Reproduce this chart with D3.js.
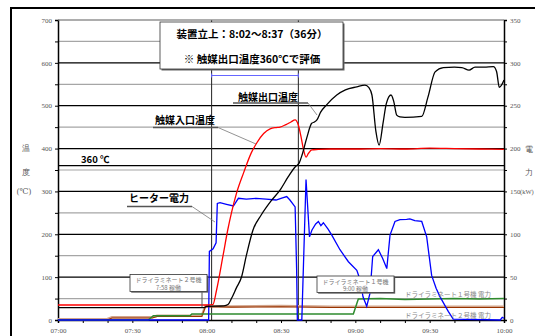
<!DOCTYPE html>
<html><head><meta charset="utf-8">
<script src="https://cdn.jsdelivr.net/npm/d3@7"></script>
<style>
body{margin:0;background:#fff;}
svg{display:block;}
</style></head>
<body><svg id="c" width="535" height="336"></svg>
<script>
// minutes after 07:00
const timeTicks = [0, 30, 60, 90, 120, 150, 180];
const timeLabels = ["07:00", "07:30", "08:00", "08:30", "09:00", "09:30", "10:00"];
const tempTicks = [0, 100, 200, 300, 400, 500, 600, 700];
const powerTicks = [0, 50, 100, 150, 200, 250, 300, 350];

// 触媒入口温度 (℃)
const inletTemp = [[0,35],[30,35],[60,35],[62.5,36],[64,70],[66.6,150],[68.5,210],[70,250],[72,295],[75,345],[78,390],[80.2,413],[83,435],[85.6,446],[88,449],[89.6,450],[92,456],[94,462],[95.7,467],[97,455],[98,430],[99,400],[100.1,380],[101,388],[102.4,397],[105,398],[110,399],[120,399],[130,400],[140,399],[150,401],[160,400],[170,399],[180,398]];
// 触媒出口温度 (℃)
const outletTemp = [[0,29],[59,29],[60,32],[67,33],[68.6,36],[70,50],[72,75],[74.1,101],[76,150],[78.7,210],[82,245],[86,278],[89.6,303],[93,335],[95.7,357],[97.3,366],[98.5,385],[100.4,425],[102.4,459],[103.5,462],[104.5,467],[106,485],[108.4,502],[112.5,525],[116,537],[120.6,544],[123.9,548],[125.5,542],[126.7,525],[128.3,440],[129.6,408],[131.2,460],[132.5,505],[134.4,525],[135.5,510],[136.7,478],[138,474],[140,473],[146.8,475],[149.3,520],[152.2,579],[155.5,589],[160,590],[163,589],[165.9,583],[168.3,590],[172,590],[175.7,591],[177,580],[178.1,543],[179,548],[180,560]];
// ヒーター電力 (kW)
const heaterPower = [[0,0],[60.8,0],[61.1,80],[62.6,83],[63.8,90],[64.3,136],[65.4,137],[68,135],[70.8,133],[72.8,142],[76,141],[80,142],[84,141],[88,140],[90,142],[92.3,144],[93.6,140],[95.7,132],[96.3,60],[96.6,0],[98.4,0],[100.1,164],[101.5,97],[102.5,105],[104,112],[105.1,115],[106.1,110],[107.1,113.5],[109,106],[110.5,99],[113.8,82],[117.2,68],[120.6,58],[121.9,47],[123.1,27],[124.6,16],[125.9,31],[127,74],[129.3,82],[131,72],[132.7,60],[134,99],[136,115],[138,117],[140.7,117.5],[142,118],[144,116],[146.8,115],[148.8,97],[150.8,52],[152.6,37],[154.2,27],[157.5,10],[159.5,1],[178.5,0],[179.3,3],[180,2]];
// ドライラミネート２号機 電力 (kW)
const laminator2Power = [[0,0],[19.8,0],[21.8,2.3],[38,2.3],[40,4],[58,4],[59.5,15.5],[70,15],[90,15.5],[110,14.5],[130,14.5],[150,14.5],[180,14.5]];
// ドライラミネート１号機 電力 (kW)
const laminator1Power = [[0,0],[36.4,0],[38.5,5],[53.3,5],[54,7],[119.2,7],[121.2,24.5],[130,25],[140,24],[150,24.5],[160,25],[170,24.5],[180,25]];

const startMin = 62, endMin = 97;   // 8:02 ～ 8:37
const evalTemp = 360;

const svg = d3.select("#c");
const L = 58, R = 504, T = 20, B = 320;
const x = d3.scaleLinear().domain([0, 180]).range([L, R]);
const yL = d3.scaleLinear().domain([0, 700]).range([B, T]);
const yR = d3.scaleLinear().domain([0, 350]).range([B, T]);

const serif = "'Liberation Serif', 'DejaVu Serif', serif";
const jp = "'Noto Sans CJK JP', sans-serif";

// outer frame
svg.append("rect").attr("x", 11).attr("y", 8).attr("width", 600).attr("height", 400)
  .attr("fill", "none").attr("stroke", "#000").attr("stroke-width", 2);

// horizontal grid: black at every 100 ℃, gray in between
const grid = svg.append("g");
d3.range(0, 701, 50).forEach(v => {
  const major = v % 100 === 0;
  if (v === 0) return;
  grid.append("line").attr("x1", L).attr("x2", R).attr("y1", yL(v)).attr("y2", yL(v))
    .attr("stroke", major && v !== 700 ? "#000" : "#a6a6a6").attr("stroke-width", 1.2);
});
// 360 ℃ line
grid.append("line").attr("x1", L).attr("x2", R).attr("y1", yL(evalTemp)).attr("y2", yL(evalTemp))
  .attr("stroke", "#000").attr("stroke-width", 1.2);

// start / end verticals
[startMin, endMin].forEach(m => {
  svg.append("line").attr("x1", x(m)).attr("x2", x(m)).attr("y1", T).attr("y2", B)
    .attr("stroke", "#222").attr("stroke-width", 1);
});
// duration bracket
const br = svg.append("g").attr("stroke", "#6666ff").attr("stroke-width", 1);
br.append("line").attr("x1", x(startMin)).attr("x2", x(endMin)).attr("y1", 75.5).attr("y2", 75.5);
[startMin, endMin].forEach(m => br.append("line").attr("x1", x(m)).attr("x2", x(m)).attr("y1", 73.5).attr("y2", 77.5));

// axes
const axL = svg.append("g").attr("transform", `translate(${L},0)`)
  .call(d3.axisLeft(yL).tickValues(d3.range(0, 701, 50)).tickSize(3).tickFormat(d => d % 100 === 0 ? d : ""));
const axR = svg.append("g").attr("transform", `translate(${R},0)`)
  .call(d3.axisRight(yR).tickValues(d3.range(0, 351, 25)).tickSize(3).tickFormat(d => powerTicks.includes(d) ? d : ""));
const axB = svg.append("g").attr("transform", `translate(0,${B})`)
  .call(d3.axisBottom(x).tickValues(d3.range(0, 181, 10)).tickSize(3)
    .tickFormat(d => { const i = timeTicks.indexOf(d); return i >= 0 ? timeLabels[i] : ""; }));
[axL, axR, axB].forEach(a => {
  a.select(".domain").attr("stroke", "#000").attr("stroke-width", 1.5);
  a.selectAll(".tick line").attr("stroke", "#000");
  a.selectAll("text").attr("font-family", serif).attr("font-size", 7).attr("fill", "#555");
});
axL.selectAll("text").attr("x", -6);
axR.selectAll("text").attr("x", 6);
axB.selectAll("text").attr("y", 8);
svg.append("line").attr("x1", L).attr("x2", R).attr("y1", T).attr("y2", T).attr("stroke", "#888");

// axis titles
const tL = svg.append("g").attr("font-family", serif).attr("font-size", 8).attr("fill", "#555").attr("text-anchor", "middle");
tL.append("text").attr("x", 26).attr("y", 151).text("温");
tL.append("text").attr("x", 26).attr("y", 175).text("度");
tL.append("text").attr("x", 24).attr("y", 194).text("(℃)");
const tR = svg.append("g").attr("font-family", serif).attr("font-size", 8).attr("fill", "#555");
tR.append("text").attr("x", 525).attr("y", 152).text("電");
tR.append("text").attr("x", 525).attr("y", 175).text("力");
tR.append("text").attr("x", 520).attr("y", 194).attr("font-size", 6.5).text("(kW)");

// series
const lineR = d3.line().x(d => x(d[0])).y(d => yR(d[1]));
const smoothL = d3.line().x(d => x(d[0])).y(d => yL(d[1])).curve(d3.curveMonotoneX);

svg.append("path").datum(laminator2Power).attr("d", lineR).attr("fill", "none")
  .attr("stroke", "#d2a58c").attr("stroke-width", 2.4).attr("transform", "translate(0,-0.8)");
svg.append("path").datum(laminator2Power).attr("d", lineR).attr("fill", "none")
  .attr("stroke", "#993300").attr("stroke-width", 1.1);
svg.append("path").datum(laminator1Power).attr("d", lineR).attr("fill", "none")
  .attr("stroke", "#2e8b2e").attr("stroke-width", 1.5);
svg.append("path").datum(heaterPower).attr("d", lineR).attr("fill", "none")
  .attr("stroke", "#0000ff").attr("stroke-width", 1.3);
svg.append("path").datum(inletTemp).attr("d", smoothL).attr("fill", "none")
  .attr("stroke", "#ff0000").attr("stroke-width", 1.3);
svg.append("path").datum(outletTemp).attr("d", smoothL).attr("fill", "none")
  .attr("stroke", "#000").attr("stroke-width", 1.3);

// labels for series with leader lines
function callout(txt, tx, ty, ux1, ux2, uy, px, py) {
  svg.append("text").attr("x", tx).attr("y", ty).attr("font-family", jp).attr("font-weight", 700)
    .attr("font-size", 10).attr("fill", "#000").text(txt);
  svg.append("line").attr("x1", ux1).attr("x2", ux2).attr("y1", uy).attr("y2", uy).attr("stroke", "#555").attr("stroke-width", 1.5);
  svg.append("line").attr("x1", ux2).attr("x2", px).attr("y1", uy).attr("y2", py).attr("stroke", "#777").attr("stroke-width", 0.8);
}
callout("触媒入口温度", 155, 124, 153, 218, 127.5, 256, 144);
callout("触媒出口温度", 238, 101, 233, 308, 103, 317, 115);
callout("ヒーター電力", 129, 202, 127, 192, 206.5, 215, 222);

svg.append("text").attr("x", 81).attr("y", 163).attr("font-family", jp).attr("font-weight", 700)
  .attr("font-size", 9.5).text(evalTemp + " ℃");

// boxed notes
function box(x0, y0, w, h, shadow) {
  svg.append("rect").attr("x", x0 + shadow).attr("y", y0 + shadow).attr("width", w).attr("height", h).attr("fill", "#666");
  svg.append("rect").attr("x", x0).attr("y", y0).attr("width", w).attr("height", h)
    .attr("fill", "#fff").attr("stroke", "#333").attr("stroke-width", 0.8);
}
box(160, 22, 183, 47, 1.5);
const main = svg.append("g").attr("font-family", jp).attr("font-weight", 700).attr("font-size", 10.5).attr("text-anchor", "middle");
main.append("text").attr("x", 252).attr("y", 38).text("装置立上：8:02～8:37（36分）");
main.append("text").attr("x", 252).attr("y", 63).text("※ 触媒出口温度360℃で評価");

// machine start notes
svg.append("line").attr("x1", 202).attr("x2", 202).attr("y1", 291).attr("y2", yR(15)).attr("stroke", "#555").attr("stroke-width", 1);
box(130, 274.5, 77, 17, 1.2);
const n2 = svg.append("g").attr("font-family", jp).attr("font-size", 6).attr("fill", "#777").attr("text-anchor", "middle");
n2.append("text").attr("x", 168.5).attr("y", 282).text("ドライラミネート２号機");
n2.append("text").attr("x", 168.5).attr("y", 290).text("7:58  稼働");
box(317, 276, 77, 16.5, 1.2);
const n1 = svg.append("g").attr("font-family", jp).attr("font-size", 6).attr("fill", "#777").attr("text-anchor", "middle");
n1.append("text").attr("x", 355.5).attr("y", 283.5).text("ドライラミネート１号機");
n1.append("text").attr("x", 355.5).attr("y", 291.2).text("9:00  稼働");

const sl = svg.append("g").attr("font-family", jp).attr("font-size", 6.5).attr("fill", "#888");
sl.append("text").attr("x", 405).attr("y", 297).text("ドライラミネート１号機 電力");
sl.append("text").attr("x", 405).attr("y", 317.5).text("ドライラミネート２号機 電力");
</script></body></html>
